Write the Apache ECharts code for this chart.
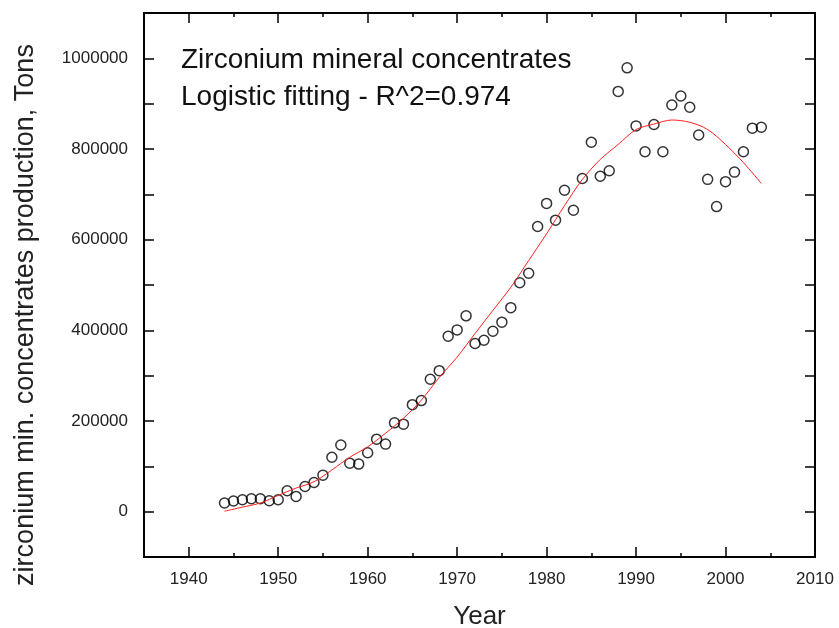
<!DOCTYPE html>
<html>
<head>
<meta charset="utf-8">
<script src="https://cdn.jsdelivr.net/npm/echarts@6/dist/echarts.min.js"></script>
<style>html,body{margin:0;padding:0;background:#fff}#c{width:839px;height:628px}</style>
</head>
<body>
<div id="c"></div>
<script>
const years = [1944,1945,1946,1947,1948,1949,1950,1951,1952,1953,1954,1955,1956,1957,1958,1959,1960,1961,1962,1963,1964,1965,1966,1967,1968,1969,1970,1971,1972,1973,1974,1975,1976,1977,1978,1979,1980,1981,1982,1983,1984,1985,1986,1987,1988,1989,1990,1991,1992,1993,1994,1995,1996,1997,1998,1999,2000,2001,2002,2003,2004];
const production = [19000,23500,26400,28600,28600,24200,26400,46200,33700,55600,64400,80600,120000,147000,107000,105000,130000,160000,149000,196000,193000,236000,245000,292000,311000,387000,401000,432000,371000,378000,398000,418000,450000,505000,526000,629000,680000,643000,709000,665000,735000,815000,740000,752000,927000,979000,851000,794000,854000,794000,897000,917000,892000,831000,733000,673000,728000,749000,794000,846000,848000];
const fitYears = [1944,1946,1948,1950,1952,1954,1956,1958,1960,1962,1964,1966,1968,1970,1972,1974,1976,1978,1980,1982,1984,1986,1988,1990,1992,1994,1996,1998,2000,2002,2004];
const fitValues = [1000,10000,19000,36000,52000,66000,92000,120000,143000,173000,206000,246000,296000,341000,393000,444000,495000,554000,613000,675000,733000,777000,810000,843000,855000,864000,859000,843000,810000,770000,724000];
const xMajorTicks = [1940,1950,1960,1970,1980,1990,2000];
const xMinorTicks = [1945,1955,1965,1975,1985,1995,2005];
const xLabels = [1940,1950,1960,1970,1980,1990,2000,2010];
const yLabels = [0,200000,400000,600000,800000,1000000];
const annotation = ['Zirconium mineral concentrates', 'Logistic fitting - R^2=0.974'];
const xTitle = 'Year';
const yTitle = 'zirconium min. concentrates production, Tons';

const chart = echarts.init(document.getElementById('c'));
const font = 'Liberation Sans, Arial, sans-serif';
const lineStyle = {color: '#000', width: 2};
function xAx(pos, ticks, len, labels, extra) {
  return Object.assign({
    type: 'value', min: 1935, max: 2010, position: pos, offset: 0,
    axisLine: {show: true, lineStyle: lineStyle, onZero: false},
    axisTick: {show: true, inside: true, length: len, customValues: ticks, lineStyle: {color: '#000', width: 1.5}},
    axisLabel: labels ? {show: true, customValues: labels, fontSize: 17, color: '#222', margin: 14, fontFamily: font,
      formatter: v => String(v)} : {show: false},
    splitLine: {show: false}
  }, extra || {});
}
function yAx(pos, labels) {
  return {
    type: 'value', min: -100000, max: 1100000, interval: 100000, position: pos, offset: 0,
    axisLine: {show: true, lineStyle: lineStyle, onZero: false},
    axisTick: {show: true, inside: true, length: 10, lineStyle: {color: '#000', width: 1.5}},
    axisLabel: labels ? {show: true, customValues: yLabels, fontSize: 17, color: '#222', margin: 16, fontFamily: font,
      formatter: v => (yLabels.indexOf(v) >= 0 ? String(v) : '')} : {show: false},
    splitLine: {show: false}
  };
}
chart.setOption({
  animation: false,
  backgroundColor: '#fff',
  grid: {left: 144, right: 24, top: 13, bottom: 71, containLabel: false, outerBoundsMode: 'none'},
  xAxis: [
    xAx('bottom', xMajorTicks, 10, xLabels, {name: xTitle, nameLocation: 'middle', nameGap: 47, nameTextStyle: {fontSize: 26, color: '#222', fontFamily: font}}),
    xAx('bottom', xMinorTicks, 4, null),
    xAx('top', xMajorTicks, 10, null),
    xAx('top', xMinorTicks, 4, null)
  ],
  yAxis: [yAx('left', true), yAx('right', false)],
  graphic: [
    {type: 'text', left: 181, top: 46, style: {text: annotation[0], fontSize: 28, fill: '#111', fontFamily: font}},
    {type: 'text', left: 181, top: 83, style: {text: annotation[1], fontSize: 28, fill: '#111', fontFamily: font}},
    {type: 'text', x: 26, y: 315, rotation: Math.PI / 2, style: {text: yTitle, fontSize: 27, fill: '#222', fontFamily: font, align: 'center', verticalAlign: 'middle'}}
  ],
  series: [
    {type: 'scatter', xAxisIndex: 0, yAxisIndex: 0, symbol: 'circle', symbolSize: 10,
      itemStyle: {color: 'rgba(255,255,255,0)', borderColor: '#000', borderWidth: 1.5},
      data: years.map((y, i) => [y, production[i]])},
    {type: 'line', xAxisIndex: 0, yAxisIndex: 0, showSymbol: false, smooth: 0.3,
      lineStyle: {color: '#ff2020', width: 1},
      data: fitYears.map((y, i) => [y, fitValues[i]])}
  ]
});
</script>
</body>
</html>
